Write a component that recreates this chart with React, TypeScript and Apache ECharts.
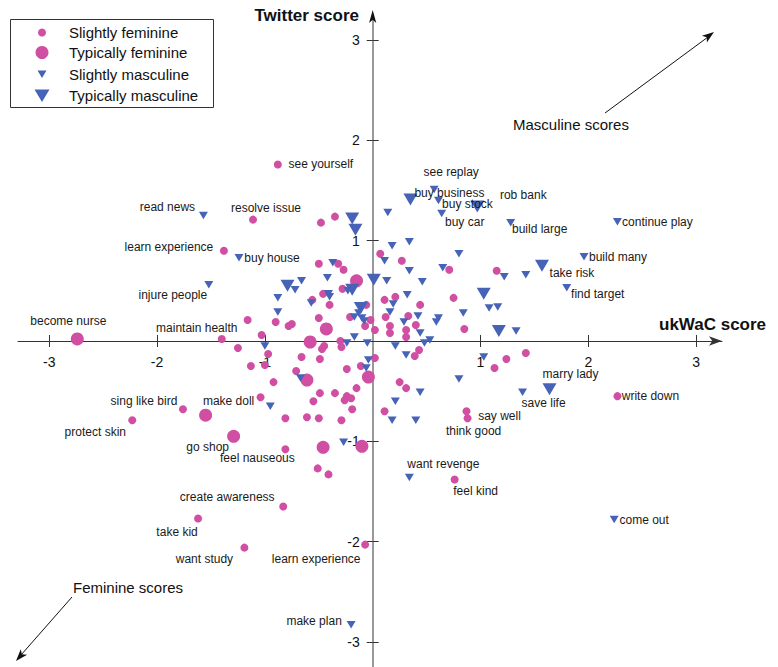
import React, { useEffect, useRef } from 'react';
import * as echarts from 'echarts';

type Pt = [number, number, string?];

const xTicks = [-3, -2, -1, 1, 2, 3];
const yTicks = [-3, -2, -1, 1, 2, 3];

const seriesNames = ['Slightly feminine', 'Typically feminine', 'Slightly masculine', 'Typically masculine'];

const slightlyFeminine: Pt[] = [
  [-1.40, 0.02, 'maintain health'], [-0.88, 1.76, 'see yourself'], [-1.11, 1.21, 'resolve issue'],
  [-1.38, 0.90, 'learn experience'], [-1.76, -0.68, 'sing like bird'], [-2.23, -0.79, 'protect skin'],
  [-1.04, -0.56, 'make doll'], [-0.81, -1.08, 'feel nauseous'], [-0.83, -1.65, 'create awareness'],
  [-1.62, -1.77, 'take kid'], [-1.19, -2.06, 'want study'], [-0.07, -2.03, 'learn experience'],
  [0.76, -1.38, 'feel kind'], [0.87, -0.70, 'say well'], [0.88, -0.77, 'think good'], [2.27, -0.55, 'write down'],
  [-0.48, 1.18], [-0.35, 1.24], [-0.50, 0.77], [-0.32, 0.77], [-0.27, 0.71], [-0.28, 0.52], [-0.46, 0.47],
  [-0.56, 0.41], [-0.40, 0.36], [-1.16, 0.21], [-0.90, 0.19], [-0.75, 0.17], [-0.78, 0.15], [-0.50, 0.23],
  [-0.21, 0.24], [-0.07, 0.15], [-0.02, 0.21], [0.02, 0.11], [-0.06, 0.36], [-1.03, 0.06], [-0.45, -0.05],
  [-0.47, -0.08], [-0.30, 0.00], [-0.29, -0.06], [-1.25, -0.07], [-0.97, -0.13], [-1.13, -0.25], [-1.00, -0.24],
  [-0.92, -0.41], [-0.66, -0.16], [-0.49, -0.18], [-0.71, -0.30], [-0.24, -0.28], [-0.11, -0.25], [0.02, -0.17],
  [-0.15, -0.47], [-0.35, -0.52], [-0.49, -0.52], [-0.24, -0.55], [-0.20, -0.57], [-0.26, -0.59], [-0.55, -0.60],
  [-0.19, -0.68], [-0.81, -0.77], [-0.61, -0.76], [-0.50, -0.77], [-0.29, -0.79], [-0.51, -1.27], [-0.41, -1.33],
  [0.11, 0.41], [0.21, 0.44], [0.44, 0.36], [0.75, 0.43], [0.71, 0.71], [0.27, 0.80], [0.07, 0.87], [1.15, 0.70],
  [0.12, 0.24], [0.33, 0.25], [0.40, 0.16], [0.16, 0.15], [0.16, 0.08], [0.31, 0.11], [0.85, 0.12], [0.31, 0.04],
  [0.43, -0.09], [0.39, -0.15], [1.13, -0.27], [1.24, -0.18], [1.42, -0.12], [0.25, -0.41], [0.31, -0.47],
  [0.11, -0.70],
];

const typicallyFeminine: Pt[] = [
  [-2.74, 0.02, 'become nurse'], [-1.29, -0.95, 'go shop'],
  [-0.15, 0.60], [-0.43, 0.12], [-0.58, -0.01], [-0.61, -0.39], [-0.04, -0.36], [-1.55, -0.74],
  [-0.46, -1.06], [-0.10, -1.05],
];

const slightlyMasculine: Pt[] = [
  [-1.57, 1.25, 'read news'], [-1.24, 0.83, 'buy house'], [-1.52, 0.56, 'injure people'],
  [-0.20, -2.83, 'make plan'], [0.34, -1.36, 'want revenge'], [1.39, -0.51, 'save life'],
  [2.24, -1.78, 'come out'], [0.57, 1.51, 'see replay'], [0.61, 1.40, 'buy stock'], [0.64, 1.27, 'buy car'],
  [1.28, 1.18, 'build large'], [2.27, 1.19, 'continue play'], [1.96, 0.84, 'build many'], [1.80, 0.53, 'find target'],
  [0.14, 1.28], [0.34, 0.99], [0.18, 0.95], [0.11, 0.80], [0.80, 0.87], [0.65, 0.73], [0.34, 0.70], [1.22, 0.64],
  [1.42, 0.66], [0.13, 0.60], [0.46, 0.59], [0.32, 0.46], [0.19, 0.37], [1.08, 0.33], [1.16, 0.34], [0.84, 0.28],
  [0.16, 0.29], [0.42, 0.25], [0.61, 0.23], [0.59, 0.19], [0.29, 0.19], [1.33, 0.10], [0.44, 0.08], [0.53, 0.01],
  [0.48, -0.02], [0.21, -0.05], [0.31, -0.14], [1.03, -0.16], [0.80, -0.38], [0.44, -0.51], [0.21, -0.60],
  [0.18, -0.79], [0.40, -0.79], [-0.37, 0.78], [-0.42, 0.63], [-0.72, 0.51], [-0.66, 0.60], [-0.88, 0.43],
  [-0.41, 0.47], [-0.40, 0.44], [-0.23, 0.50], [-0.57, 0.38], [-0.88, 0.29], [-0.13, 0.28], [-0.17, 0.24],
  [-0.10, 0.23], [-0.08, 0.20], [-0.17, 0.04], [-0.24, -0.02], [-0.05, -0.02], [-1.00, -0.05], [-0.67, -0.37],
  [-0.06, -0.27], [-0.04, -0.19], [-0.95, -0.65], [-0.27, -1.01],
];

const typicallyMasculine: Pt[] = [
  [1.64, -0.48, 'marry lady'], [0.35, 1.41, 'buy business'], [0.97, 1.34, 'rob bank'], [1.57, 0.75, 'take risk'],
  [-0.19, 1.22], [-0.16, 1.11], [0.01, 0.61], [-0.79, 0.55], [-0.19, 0.51], [-0.11, 0.33], [1.03, 0.47], [1.17, 0.10],
];

// label text-centre offsets (px) from the point, in order of appearance
const labelOffsets: Record<string, [number, number][]> = {
  'become nurse': [[-9, -18]], 'maintain health': [[-25, -11]], 'see yourself': [[43, 0]],
  'read news': [[-36, -9]], 'resolve issue': [[13, -12]], 'learn experience': [[-55, -4], [-49, 14]],
  'buy house': [[33, 0]], 'injure people': [[-36, 10]], 'sing like bird': [[-39, -8]],
  'protect skin': [[-37, 12]], 'make doll': [[-32, 4]], 'go shop': [[-26, 11]], 'feel nauseous': [[-28, 9]],
  'create awareness': [[-56, -10]], 'take kid': [[-21, 13]], 'want study': [[-40, 11]], 'make plan': [[-37, -4]],
  'feel kind': [[21, 12]], 'want revenge': [[34, -13]], 'say well': [[33, 5]], 'think good': [[6, 13]],
  'save life': [[21, 11]], 'marry lady': [[21, -15]], 'write down': [[33, 0]], 'come out': [[30, 0]],
  'see replay': [[17, -18]], 'buy business': [[39, -7]], 'buy stock': [[29, 3]], 'rob bank': [[46, -12]],
  'buy car': [[23, 8]], 'build large': [[29, 6]], 'continue play': [[40, 0]], 'build many': [[34, 0]],
  'take risk': [[30, 7]], 'find target': [[31, 6]],
};

const FONT = '"Liberation Sans", Arial, Helvetica, sans-serif';
const PINK = '#D04FA2';
const BLUE = '#4763B8';
const TRI = 'path://M0,0L10,0L5,8.66Z';

function arrowHead(x1: number, y1: number, x2: number, y2: number, len = 12, half = 4.2) {
  const dx = x2 - x1, dy = y2 - y1;
  const n = Math.hypot(dx, dy);
  const ux = dx / n, uy = dy / n;
  const bx = x2 - ux * len, by = y2 - uy * len;
  const mx = x2 - ux * len * 0.75, my = y2 - uy * len * 0.75;
  return [[x2, y2], [bx - uy * half, by + ux * half], [mx, my], [bx + uy * half, by - ux * half]];
}

export default function App() {
  const ref = useRef<HTMLDivElement>(null);
  useEffect(() => {
    if (!ref.current) return;
    const chart = echarts.init(ref.current, undefined, { renderer: 'svg' });
    const used: Record<string, number> = {};
    const build = (pts: Pt[]) =>
      pts.map(([x, y, name]) => {
        if (!name) return { value: [x, y] };
        const i = used[name] ?? 0;
        used[name] = i + 1;
        const off = (labelOffsets[name] || [])[i] || [0, 0];
        return { value: [x, y], name, label: { show: true, formatter: name, offset: off } };
      });
    const baseLabel = {
      show: false, position: 'inside', align: 'center', verticalAlign: 'middle',
      fontSize: 12, color: '#1a1a1a', fontFamily: FONT,
    };
    const mk = (name: string, pts: Pt[], symbol: string, size: any, color: string) => ({
      name, type: 'scatter', xAxisIndex: 0, yAxisIndex: 0, data: build(pts), symbol, symbolSize: size,
      itemStyle: { color, opacity: 1 }, label: baseLabel, emphasis: { disabled: true },
    });

    const W = 778, H = 667;
    const gL = 18, gR = 56, gT = 18, gB = 0;
    const xMin = -3.29, xMax = 3.24, yMin = -3.25, yMax = 3.22;
    const gw = W - gL - gR, gh = H - gT - gB;
    const x0 = gL + (gw * (0 - xMin)) / (xMax - xMin);
    const y0 = gT + (gh * (yMax - 0)) / (yMax - yMin);

    const tickStyle = { color: '#333', width: 1 };
    const hidden = { color: 'rgba(0,0,0,0)' };
    const legendRows = [32.5, 52.5, 74, 95.5];
    const option: any = {
      animation: false,
      textStyle: { fontFamily: FONT },
      grid: { left: gL, right: gR, top: gT, bottom: gB, containLabel: false, outerBoundsMode: 'none' },
      xAxis: [
        {
          type: 'value', min: xMin, max: xMax, position: 'bottom', offset: -(H - gB - y0),
          axisLine: { show: true, onZero: false, lineStyle: { color: '#333', width: 1 }, symbol: ['none', 'arrow'], symbolSize: [7, 13] },
          axisTick: { show: true, customValues: xTicks, length: 6, lineStyle: tickStyle },
          axisLabel: { show: true, customValues: xTicks, margin: 14, fontSize: 14, color: '#111', fontFamily: FONT },
          splitLine: { show: false },
        },
        {
          type: 'value', min: xMin, max: xMax, position: 'top', offset: -(y0 - gT),
          axisLine: { show: false, onZero: false, lineStyle: hidden },
          axisTick: { show: true, customValues: xTicks, length: 6, lineStyle: tickStyle },
          axisLabel: { show: false },
          splitLine: { show: false },
        },
      ],
      yAxis: [
        {
          type: 'value', min: yMin, max: yMax, position: 'left', offset: -(x0 - gL),
          axisLine: { show: true, onZero: false, lineStyle: { color: '#999', width: 2 } },
          axisTick: { show: true, customValues: yTicks, length: 6, lineStyle: tickStyle },
          axisLabel: { show: true, customValues: yTicks, margin: 13, fontSize: 14, color: '#111', fontFamily: FONT },
          splitLine: { show: false },
        },
        {
          type: 'value', min: yMin, max: yMax, position: 'right', offset: -(W - gR - x0),
          axisLine: { show: false, onZero: false, lineStyle: hidden },
          axisTick: { show: true, customValues: yTicks, length: 6, lineStyle: tickStyle },
          axisLabel: { show: false },
          splitLine: { show: false },
        },
      ],
      series: [
        mk(seriesNames[0], slightlyFeminine, 'circle', 8, PINK),
        mk(seriesNames[1], typicallyFeminine, 'circle', 13, PINK),
        mk(seriesNames[2], slightlyMasculine, TRI, [9, 7.5], BLUE),
        mk(seriesNames[3], typicallyMasculine, TRI, [14, 12], BLUE),
      ],
      graphic: [
        { type: 'polygon', z: 50, shape: { points: arrowHead(x0, 30, x0, 10, 13, 3.6) }, style: { fill: '#111' } },
        { type: 'text', z: 50, x: 359, y: 15, style: { text: 'Twitter score', font: `bold 17px ${FONT}`, fill: '#111', textAlign: 'right', align: 'right', textVerticalAlign: 'middle', verticalAlign: 'middle' } },
        { type: 'text', z: 50, x: 659, y: 324, style: { text: 'ukWaC score', font: `bold 17px ${FONT}`, fill: '#111', textAlign: 'left', align: 'left', textVerticalAlign: 'middle', verticalAlign: 'middle' } },
        { type: 'text', z: 50, x: 513, y: 124, style: { text: 'Masculine scores', font: `15px ${FONT}`, fill: '#111', textAlign: 'left', align: 'left', textVerticalAlign: 'middle', verticalAlign: 'middle' } },
        { type: 'line', z: 50, shape: { x1: 605, y1: 113, x2: 708, y2: 37 }, style: { stroke: '#111', lineWidth: 1 } },
        { type: 'polygon', z: 50, shape: { points: arrowHead(605, 113, 714, 32) }, style: { fill: '#111' } },
        { type: 'text', z: 50, x: 73, y: 587, style: { text: 'Feminine scores', font: `15px ${FONT}`, fill: '#111', textAlign: 'left', align: 'left', textVerticalAlign: 'middle', verticalAlign: 'middle' } },
        { type: 'line', z: 50, shape: { x1: 72, y1: 597, x2: 21, y2: 655 }, style: { stroke: '#111', lineWidth: 1 } },
        { type: 'polygon', z: 50, shape: { points: arrowHead(72, 597, 16, 661) }, style: { fill: '#111' } },
        { type: 'rect', z: 60, shape: { x: 10.5, y: 19.5, width: 203, height: 88 }, style: { fill: '#fff', stroke: '#333', lineWidth: 1 } },
        { type: 'circle', z: 61, shape: { cx: 42, cy: legendRows[0], r: 4 }, style: { fill: PINK } },
        { type: 'circle', z: 61, shape: { cx: 42, cy: legendRows[1], r: 6.5 }, style: { fill: PINK } },
        { type: 'polygon', z: 61, shape: { points: [[37.5, legendRows[2] - 3.5], [46.5, legendRows[2] - 3.5], [42, legendRows[2] + 4]] }, style: { fill: BLUE } },
        { type: 'polygon', z: 61, shape: { points: [[34.5, legendRows[3] - 6], [49.5, legendRows[3] - 6], [42, legendRows[3] + 6.5]] }, style: { fill: BLUE } },
        ...seriesNames.map((t, i) => ({
          type: 'text', z: 61, x: 69, y: legendRows[i],
          style: { text: t, font: `15px ${FONT}`, fill: '#111', textAlign: 'left', align: 'left', textVerticalAlign: 'middle', verticalAlign: 'middle' },
        })),
      ],
    };
    chart.setOption(option);
    return () => chart.dispose();
  }, []);
  return <div ref={ref} style={{ position: 'absolute', left: 0, top: 0, width: 778, height: 667 }} />;
}
